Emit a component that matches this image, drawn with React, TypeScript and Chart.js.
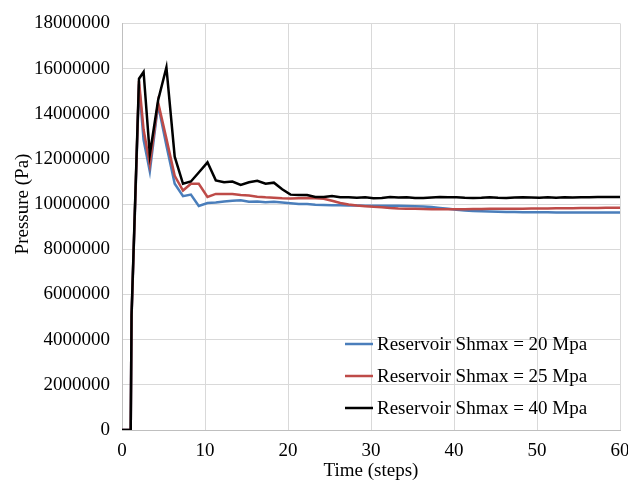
import React, { useEffect, useRef } from "react";
import { Chart, registerables } from "chart.js";

Chart.register(...registerables);

// Time (steps) at which pressure was recorded
const timeSteps = [
  0, 1.05, 1.15, 2.05, 2.6, 3.35, 4.35, 5.35, 6.35, 7.35, 8.3, 9.25,
  10.3, 11.3, 12.3, 13.3, 14.3, 15.3, 16.3, 17.3, 18.3, 19.3,
  20.3, 21.3, 22.3, 23.3, 24.3, 25.3, 26.3, 27.3, 28.3, 29.3,
  30.3, 31.3, 32.3, 33.3, 34.3, 35.3, 36.3, 37.3, 38.3, 39.3,
  40.3, 41.3, 42.3, 43.3, 44.3, 45.3, 46.3, 47.3, 48.3, 49.3,
  50.3, 51.3, 52.3, 53.3, 54.3, 55.3, 56.3, 57.3, 58.3, 59.3, 60.3,
];

// Pressure values in MPa (converted to Pa when plotted)
const shmax20MPa = [
  0, 0, 5.0, 15.3, 12.85, 11.45, 14.4, 12.6, 10.9, 10.35, 10.42, 9.92,
  10.05, 10.07, 10.12, 10.15, 10.17, 10.1, 10.12, 10.08, 10.1, 10.07,
  10.04, 10.01, 10.0, 9.97, 9.96, 9.95, 9.95, 9.94, 9.94, 9.93,
  9.93, 9.93, 9.93, 9.93, 9.92, 9.91, 9.89, 9.87, 9.83, 9.79,
  9.75, 9.72, 9.69, 9.68, 9.67, 9.66, 9.65, 9.65, 9.64, 9.64,
  9.64, 9.64, 9.63, 9.63, 9.63, 9.63, 9.63, 9.63, 9.63, 9.63, 9.63,
];

const shmax25MPa = [
  0, 0, 5.0, 15.45, 13.3, 11.75, 14.5, 12.9, 11.25, 10.6, 10.9, 10.9,
  10.32, 10.45, 10.45, 10.45, 10.4, 10.38, 10.33, 10.3, 10.28, 10.26,
  10.25, 10.26, 10.27, 10.26, 10.24, 10.15, 10.05, 9.98, 9.94, 9.91,
  9.88, 9.86, 9.83, 9.81, 9.8, 9.79, 9.78, 9.77, 9.77, 9.77,
  9.77, 9.77, 9.78, 9.78, 9.79, 9.79, 9.8, 9.8, 9.8, 9.81,
  9.81, 9.81, 9.82, 9.82, 9.82, 9.83, 9.83, 9.83, 9.84, 9.84, 9.84,
];

const shmax40MPa = [
  0, 0, 5.1, 15.55, 15.85, 12.2, 14.6, 16.05, 12.1, 10.9, 11.0, 11.4,
  11.85, 11.05, 10.97, 11.0, 10.85, 10.97, 11.03, 10.9, 10.95, 10.66,
  10.42, 10.4, 10.4, 10.32, 10.32, 10.36, 10.3, 10.3, 10.28, 10.3,
  10.26, 10.27, 10.31, 10.29, 10.3, 10.27, 10.27, 10.29, 10.31, 10.3,
  10.3, 10.28, 10.27, 10.28, 10.3, 10.28, 10.27, 10.29, 10.3, 10.29,
  10.28, 10.3, 10.28, 10.3, 10.29, 10.3, 10.3, 10.31, 10.31, 10.32, 10.32,
];

const seriesLabels = [
  "Reservoir Shmax = 20 Mpa",
  "Reservoir Shmax = 25 Mpa",
  "Reservoir Shmax = 40 Mpa",
];
const seriesColors = ["#4a7ebb", "#be4b48", "#000000"];
const seriesValues = [shmax20MPa, shmax25MPa, shmax40MPa];

const xTitle = "Time (steps)";
const yTitle = "Pressure (Pa)";

const FONT = "'Liberation Serif', 'Times New Roman', serif";

const insideLegend = {
  id: "insideLegend",
  afterDraw(chart: any) {
    const { ctx, chartArea } = chart;
    ctx.save();
    ctx.font = `19px ${FONT}`;
    ctx.textBaseline = "middle";
    ctx.textAlign = "left";
    chart.data.datasets.forEach((ds: any, i: number) => {
      const y = chartArea.bottom - 86 + i * 32;
      const x0 = chartArea.right - 275;
      ctx.strokeStyle = ds.borderColor;
      ctx.lineWidth = 2.5;
      ctx.beginPath();
      ctx.moveTo(x0, y);
      ctx.lineTo(x0 + 28, y);
      ctx.stroke();
      ctx.fillStyle = "#000";
      ctx.fillText(ds.label, x0 + 32, y + 1);
    });
    ctx.restore();
  },
};

const yTitlePlugin = {
  id: "yTitlePlugin",
  afterDraw(chart: any) {
    const { ctx } = chart;
    ctx.save();
    ctx.font = `19px ${FONT}`;
    ctx.fillStyle = "#000";
    ctx.textAlign = "center";
    ctx.textBaseline = "middle";
    ctx.translate(23, 204);
    ctx.rotate(-Math.PI / 2);
    ctx.fillText(yTitle, 0, 0);
    ctx.restore();
  },
};

export default function App() {
  const canvasRef = useRef<HTMLCanvasElement>(null);

  useEffect(() => {
    const canvas = canvasRef.current;
    if (!canvas) return;
    const datasets = seriesValues.map((vals, i) => ({
      label: seriesLabels[i],
      data: timeSteps.map((t, j) => ({ x: t, y: vals[j] * 1e6 })),
      borderColor: seriesColors[i],
      backgroundColor: seriesColors[i],
      borderWidth: 2.5,
      pointRadius: 0,
      tension: 0,
      order: 3 - i,
    }));
    const chart = new Chart(canvas, {
      type: "line",
      data: { datasets },
      options: {
        animation: false,
        responsive: false,
        devicePixelRatio: 1,
        layout: { padding: { top: 22, right: 8, left: 0, bottom: 0 } },
        font: { family: FONT },
        plugins: {
          legend: { display: false },
          tooltip: { enabled: false },
        },
        scales: {
          x: {
            type: "linear",
            min: 0,
            max: 60,
            ticks: {
              stepSize: 10,
              color: "#000",
              padding: 10,
              font: { family: FONT, size: 19 },
              maxRotation: 0,
            },
            grid: { color: "#d9d9d9", lineWidth: 1, drawTicks: false },
            border: { color: "#bfbfbf", width: 1 },
            title: {
              display: true,
              text: xTitle,
              color: "#000",
              font: { family: FONT, size: 19 },
              padding: { top: 0, bottom: 4 },
            },
            afterFit: (s: any) => {
              s.paddingLeft = 0;
              s.paddingRight = 0;
              s.height = 56;
            },
          },
          y: {
            type: "linear",
            min: 0,
            max: 18000000,
            ticks: {
              stepSize: 2000000,
              color: "#000",
              padding: 12,
              font: { family: FONT, size: 19 },
              callback: (v: any) => String(v),
            },
            grid: { color: "#d9d9d9", lineWidth: 1, drawTicks: false },
            border: { color: "#bfbfbf", width: 1 },
            afterFit: (s: any) => {
              s.width = 122;
            },
          },
        },
      } as any,
      plugins: [insideLegend, yTitlePlugin],
    });
    return () => chart.destroy();
  }, []);

  return (
    <div style={{ position: "absolute", left: 0, top: 0, width: 628, height: 486, background: "#fff" }}>
      <canvas ref={canvasRef} width={628} height={486} />
    </div>
  );
}
